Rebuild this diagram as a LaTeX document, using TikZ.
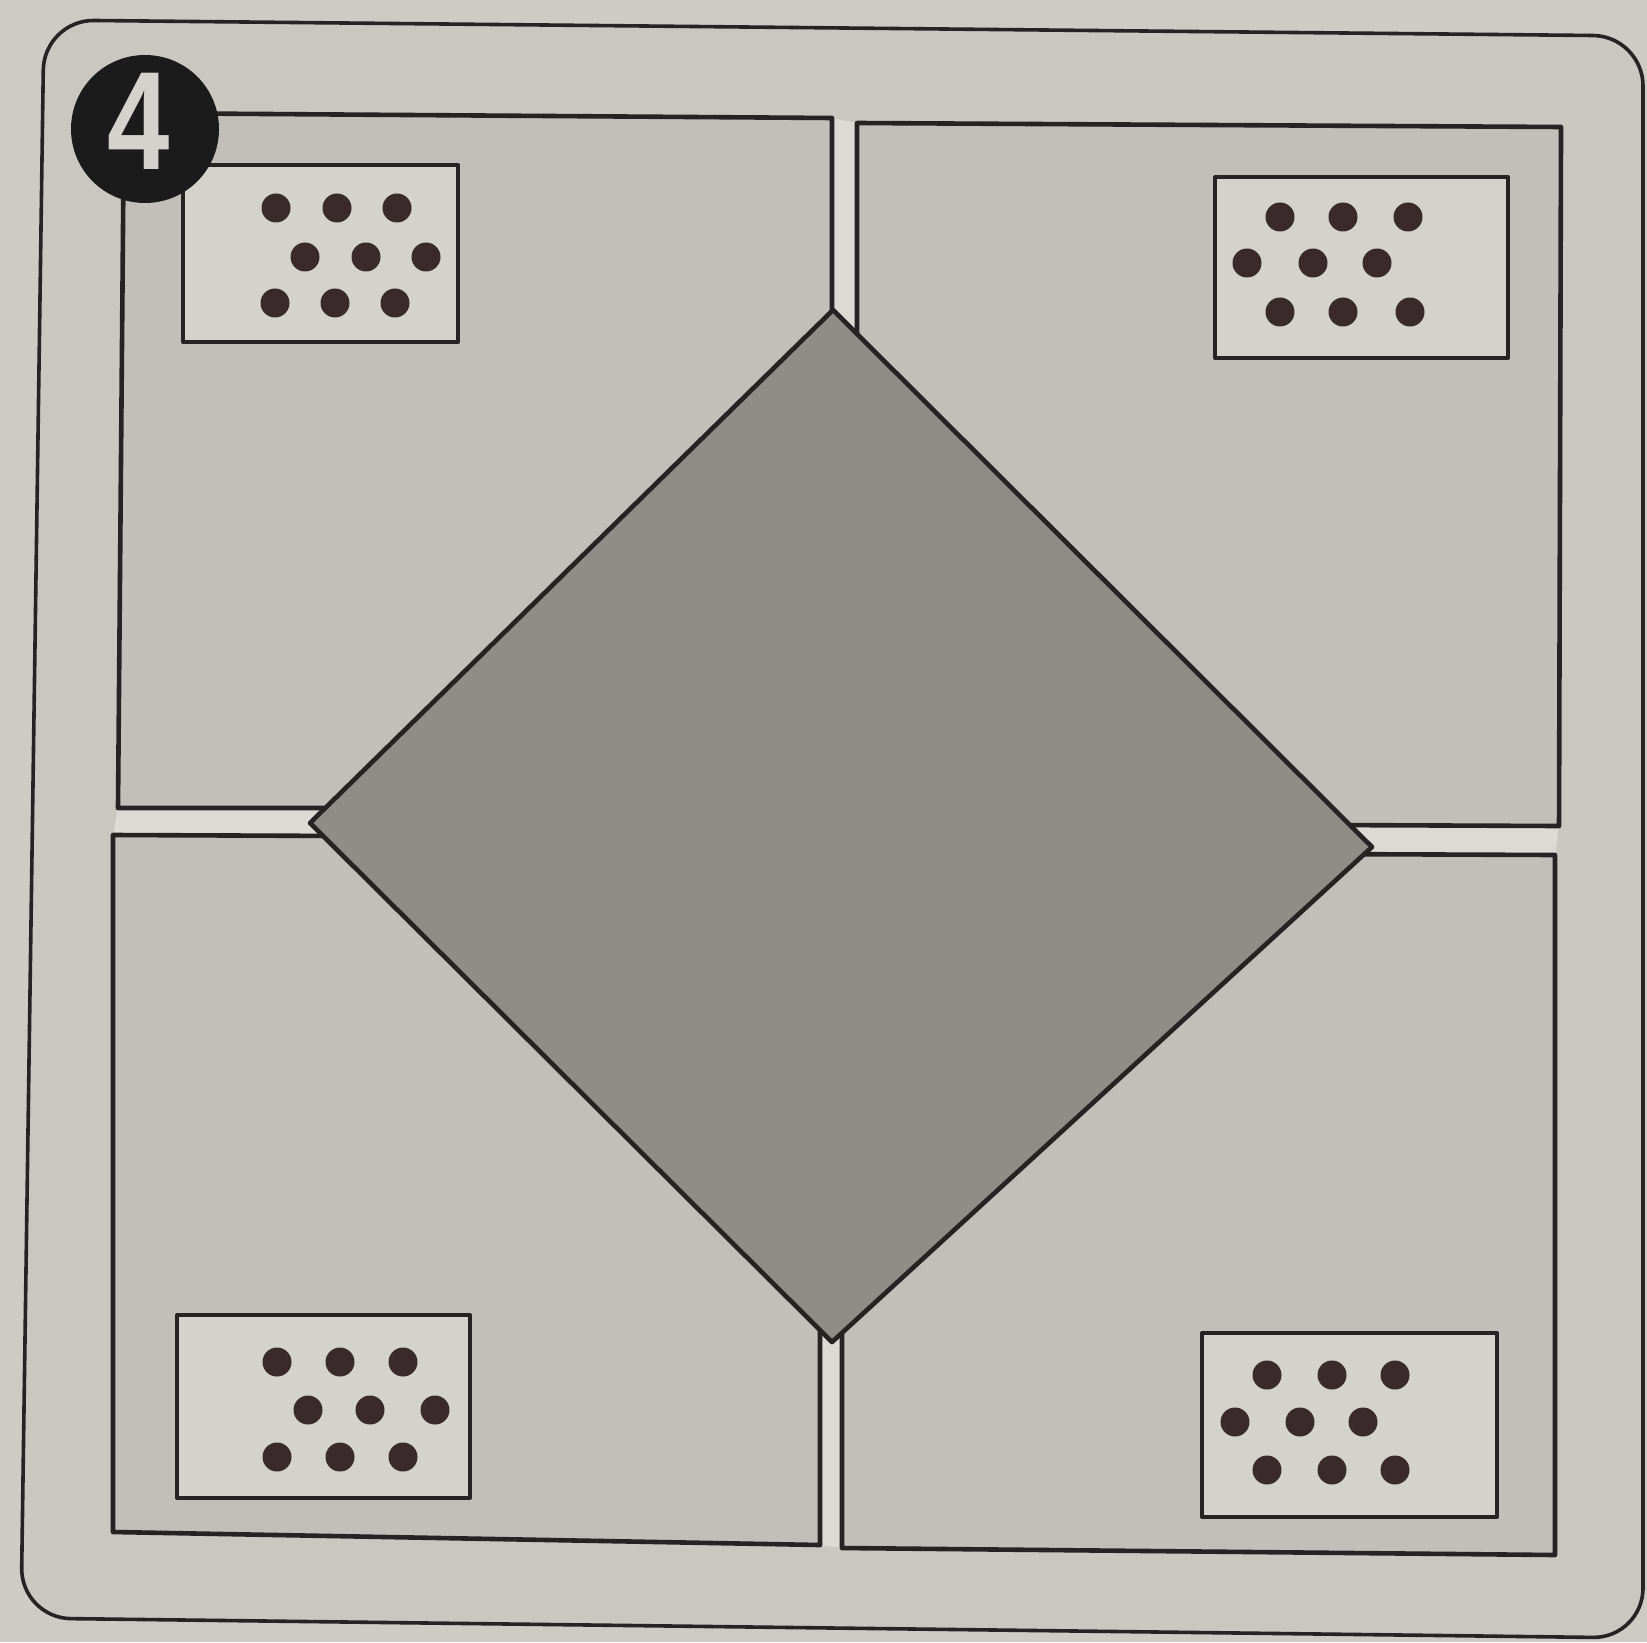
\documentclass[tikz,border=0pt]{standalone}
\usepackage{graphicx}
\usepackage{fontspec}
\setmainfont{Liberation Sans}
\definecolor{paper}{RGB}{206,203,197}
\definecolor{framefill}{RGB}{202,199,193}
\definecolor{panelc}{RGB}{194,191,186}
\definecolor{labelc}{RGB}{212,210,205}
\definecolor{gemc}{RGB}{143,141,136}
\definecolor{inkc}{RGB}{38,35,35}
\definecolor{dotc}{RGB}{58,42,44}
\definecolor{gapc}{RGB}{220,218,212}
\definecolor{badgec}{RGB}{28,27,27}
\tikzset{
  outline/.style={draw=inkc, line width=2.3pt, line join=round},
  panelbox/.style={outline, fill=panelc},
  labelbox/.style={outline, fill=labelc, line width=2pt},
  gembox/.style={outline, fill=gemc},
  dotmark/.style={fill=dotc},
  gapstrip/.style={fill=gapc},
}
\begin{document}
\begin{tikzpicture}[x=0.5pt,y=-0.5pt]
\useasboundingbox (0,0) rectangle (1647,1642);
\fill[paper] (0,0) rectangle (1647,1642);
% outer frame
\filldraw[fill=framefill, draw=inkc, line width=1.8pt, rounded corners=25pt]
  (44,20) -- (1643,36) -- (1643,1638) -- (21,1618) -- cycle;
% gap strips between panels
\fill[gapstrip] (832,118) -- (857,123) -- (857,600) -- (832,600) -- cycle;
\fill[gapstrip] (820,1000) -- (842,1000) -- (842,1548) -- (820,1545) -- cycle;
\fill[gapstrip] (118,808) -- (600,808) -- (600,838) -- (113,835) -- cycle;
\fill[gapstrip] (1100,823) -- (1559,826) -- (1555,855) -- (1100,852) -- cycle;
% panels
\path[panelbox] (124,113) -- (832,118) -- (832,808) -- (118,808) -- cycle;
\path[panelbox] (857,123) -- (1561,127) -- (1559,826) -- (857,823) -- cycle;
\path[panelbox] (113,835) -- (820,838) -- (820,1545) -- (113,1532) -- cycle;
\path[panelbox] (842,852) -- (1555,855) -- (1555,1555) -- (842,1548) -- cycle;
% diamond
\path[gembox] (833,310) -- (1372,847) -- (832,1342) -- (310,823) -- cycle;
% label rectangles
\path[labelbox] (183,165) rectangle (458,342);
\path[labelbox] (1215,177) rectangle (1508,358);
\path[labelbox] (177,1315) rectangle (470,1498);
\path[labelbox] (1202,1333) rectangle (1497,1517);
% dots
\foreach \x/\y in {276/208,337/208,397/208,305/257,366/257,426/257,275/303,335/303,395/303,
  1280/217,1343/217,1408/217,1247/263,1313/263,1377/263,1280/312,1343/312,1410/312,
  277/1362,340/1362,403/1362,308/1410,370/1410,435/1410,277/1457,340/1457,403/1457,
  1267/1375,1332/1375,1395/1375,1235/1422,1300/1422,1363/1422,1267/1470,1332/1470,1395/1470}
  \fill[dotmark] (\x,\y) circle[radius=14.5];
% badge
\node[circle, fill=badgec, minimum size=74pt, inner sep=0pt] (badge) at (145,129) {};
\node[text=labelc, inner sep=0pt, font=\bfseries\fontsize{70}{70}\selectfont] (badgenum) at (139,121) {\scalebox{0.8}[1]{4}};
\end{tikzpicture}
\end{document}
